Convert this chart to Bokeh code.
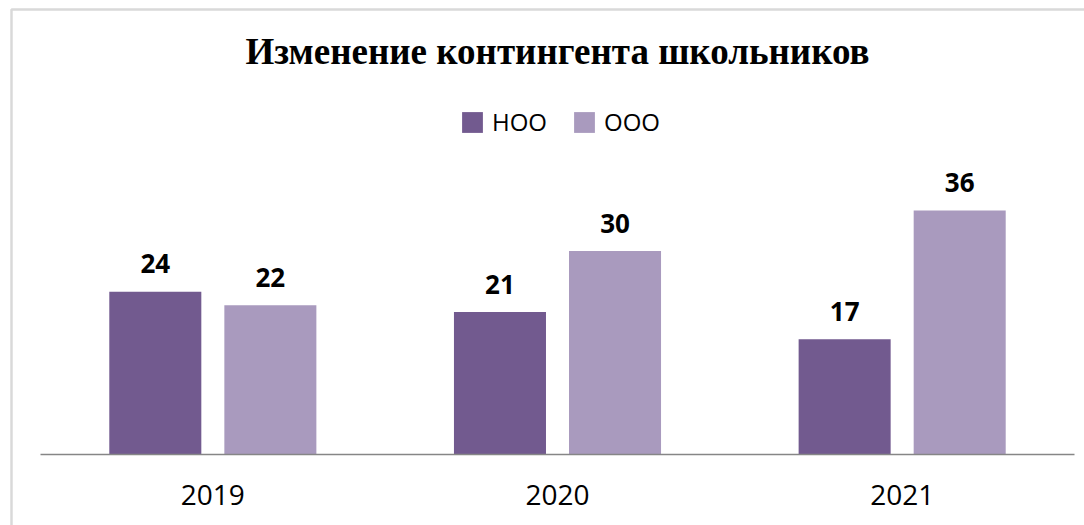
from bokeh.plotting import figure
from bokeh.models import (ColumnDataSource, Range1d, FixedTicker, Legend, LegendItem,
                          Label, BoxAnnotation)
from bokeh.transform import dodge
from bokeh.embed import file_html
from bokeh.resources import INLINE
from bokeh.core.properties import value

# ---- data ----
years = ["2019", "2020", "2021"]
noo = [24, 21, 17]
ooo = [22, 30, 36]
series_names = ["НОО", "ООО"]
title_text = "Изменение контингента школьников"

# ---- styles ----
DARK = "#725A8F"
LIGHT = "#A99ABE"
FONT = "Open Sans"

xpos = list(range(len(years)))
src = ColumnDataSource(dict(
    x=xpos, noo=noo, ooo=ooo,
    noo_lbl=[str(v) for v in noo], ooo_lbl=[str(v) for v in ooo],
))

W, H = 1084, 525
PX_X = (1074 - 40) / len(years)      # px per category
PX_Y = 6.78                           # px per unit
BASE = 454                            # baseline pixel row
x0 = -0.5 - 40 / PX_X
x1 = len(years) - 0.5 + (W - 1074) / PX_X
y0 = -(H - BASE) / PX_Y
y1 = BASE / PX_Y

p = figure(width=W, height=H, output_backend="svg", toolbar_location=None,
           x_range=Range1d(x0, x1), y_range=Range1d(y0, y1),
           min_border_left=0, min_border_right=0, min_border_top=0,
           min_border_bottom=0)
p.outline_line_color = None
p.xgrid.visible = False
p.ygrid.visible = False
p.yaxis.visible = False
p.background_fill_color = "white"
p.border_fill_color = "white"

off = 0.1669
bw = 0.267
r1 = p.vbar(x=dodge("x", -off, range=p.x_range), top="noo", bottom=0, width=bw,
            source=src, fill_color=DARK, line_color=None)
r2 = p.vbar(x=dodge("x", off, range=p.x_range), top="ooo", bottom=0, width=bw,
            source=src, fill_color=LIGHT, line_color=None)

for col, lbl, sgn in (("noo", "noo_lbl", -1), ("ooo", "ooo_lbl", 1)):
    p.text(x=dodge("x", sgn * off, range=p.x_range), y=col, text=lbl, source=src,
           text_align="center", text_baseline="alphabetic", y_offset=-28,
           text_font=value(FONT), text_font_style="bold", text_font_size="26px",
           text_color="black")

xa = p.xaxis[0]
xa.fixed_location = 0
xa.bounds = (-0.5, len(years) - 0.5)
xa.ticker = FixedTicker(ticks=xpos)
xa.major_label_overrides = {i: y for i, y in zip(xpos, years)}
xa.axis_line_color = "#868686"
xa.axis_line_width = 1.5
xa.major_tick_line_color = None
xa.minor_tick_line_color = None
xa.major_label_standoff = 24
xa.major_label_text_font = FONT
xa.major_label_text_font_size = "28px"
xa.major_label_text_color = "black"

legend = Legend(items=[LegendItem(label=series_names[0], renderers=[r1]),
                       LegendItem(label=series_names[1], renderers=[r2])],
                orientation="horizontal", location=(459, 387),
                glyph_width=26, glyph_height=26, label_height=26,
                label_text_font=FONT, label_text_font_size="24px",
                label_text_color="black", label_standoff=7, spacing=24,
                padding=0, margin=0, border_line_color=None,
                background_fill_alpha=0)
p.add_layout(legend)

title = Label(x=1, y=(BASE - 51) / PX_Y, text=title_text,
              text_align="center", text_baseline="alphabetic",
              text_font="Liberation Serif", text_font_style="bold",
              text_font_size="37px", text_color="black")
p.add_layout(title)

border = BoxAnnotation(left=11, right=W + 50, top=9, bottom=H + 50,
                       left_units="canvas", right_units="canvas",
                       top_units="canvas", bottom_units="canvas",
                       fill_alpha=0, line_color="#808080", line_width=2.5)
p.add_layout(border)

open("out.html", "w").write(file_html(p, INLINE))
